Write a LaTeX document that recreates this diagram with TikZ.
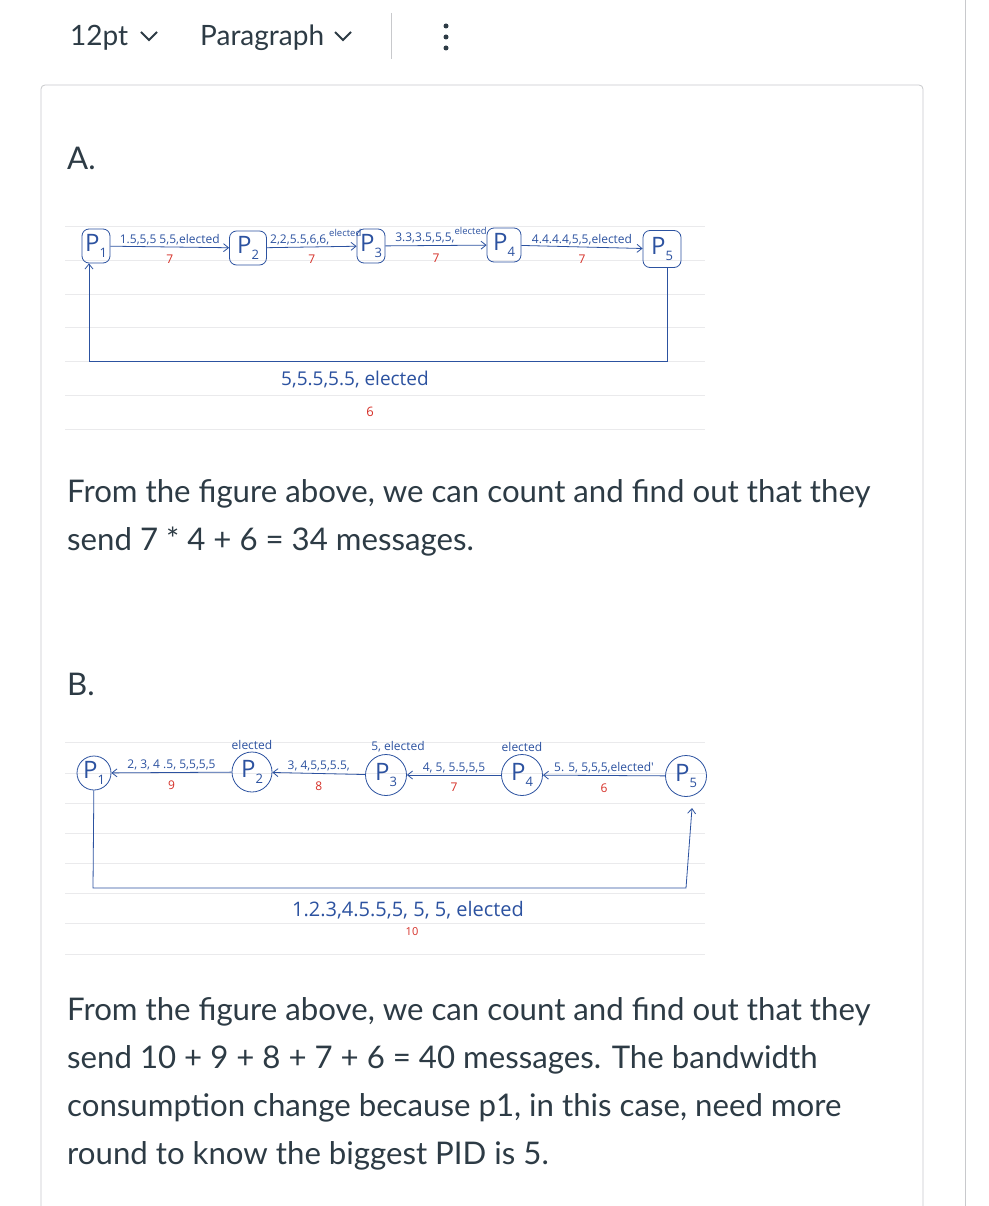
\documentclass[tikz,border=0pt]{standalone}
\usepackage{fontspec}
\setmainfont{Lato}
\newfontfamily\hand{Open Sans}
\usetikzlibrary{arrows.meta}
\definecolor{ink}{RGB}{45,59,69}
\definecolor{pen}{RGB}{44,82,160}
\definecolor{redpen}{RGB}{214,48,40}
\definecolor{rule}{RGB}{234,234,236}
\definecolor{frame}{RGB}{200,201,204}
\tikzset{
  proc/.style={draw=pen,thick,rounded corners=7pt,inner sep=0pt,minimum width=30pt,minimum height=34pt,text=pen,font=\hand\fontsize{24}{24}\selectfont},
  procb/.style={draw=pen,thick,circle,inner sep=0pt,minimum size=38pt,text=pen,font=\hand\fontsize{24}{24}\selectfont},
  flow/.style={draw=pen,thick,-{Straight Barb[length=5pt,width=8pt]}},
  lbl/.style={text=pen,font=\hand\fontsize{12}{12}\selectfont,inner sep=2pt},
  cnt/.style={text=redpen,font=\hand\fontsize{12}{12}\selectfont,inner sep=8pt},
  body/.style={text=ink,font=\fontsize{31.2}{31.2}\selectfont,anchor=base west,inner sep=0pt}
}
\newcommand{\pid}[1]{P\raisebox{-6pt}{\fontsize{13}{13}\selectfont #1}}
\newcommand{\up}[1]{\raisebox{7pt}{\fontsize{9.5}{9.5}\selectfont #1}}
\begin{document}
\begin{tikzpicture}[x=1pt,y=-1pt]
  \clip (0,0) rectangle (988,1206);
  \fill[white] (0,0) rectangle (988,1206);

  % toolbar and editor frame
  \node[body,font=\fontsize{28}{28}\selectfont] (size) at (70,46) {12pt};
  \node[body,font=\fontsize{28}{28}\selectfont] (style) at (200,46) {Paragraph};
  \draw[ink,line width=2pt] (141,32) -- (149,40) -- (157,32);
  \draw[ink,line width=2pt] (335,32) -- (343,40) -- (351,32);
  \draw[frame] (391,13) -- (391,59);
  \foreach \y in {26,37,48} \fill[ink] (446,\y) circle (2.5pt);
  \draw[frame,thick] (965,-2) -- (965,1210);
  \draw[frame,thick,rounded corners=4pt] (41,1230) -- (41,85) -- (923,85) -- (923,1230);

  % ruled paper lines
  \foreach \y in {226,260,294,327,361,395,429} \draw[rule,thick] (65,\y) -- (705,\y);
  \foreach \y in {742,773,803,833,863,893,923,954} \draw[rule,thick] (65,\y) -- (705,\y);

  \node[body] (hA) at (67,170) {A.};

  % Specification of nodes (part A)
  \node[proc,minimum width=28pt] (p1a) at (96,246) {\pid{1}};
  \node[proc,minimum width=37pt] (p2a) at (248,248) {\pid{2}};
  \node[proc,minimum width=28pt] (p3a) at (371,246) {\pid{3}};
  \node[proc,minimum width=34pt] (p4a) at (504,245) {\pid{4}};
  \node[proc,minimum width=38pt,minimum height=37pt] (p5a) at (662,249) {\pid{5}};
  \coordinate (a1) at (667,361);
  \coordinate (a2) at (89,361);

  \begin{scope}[flow]
    \draw (p1a) -- node[lbl,above] {1.5,5,5 5,5,elected} node[cnt,below] {7} (p2a);
    \draw (p2a) -- node[lbl,above,xshift=4pt] {2,2,5.5,6,6,\up{elected}} node[cnt,below] {7} (p3a);
    \draw (p3a) -- node[lbl,above,xshift=5pt] {3.3,3.5,5,5,\up{elected}} node[cnt,below] {7} (p4a);
    \draw (p4a) -- node[lbl,above] {4.4.4.4,5,5,elected} node[cnt,below] {7} (p5a);
    \draw (p5a.south -| a1) -- (a1) -- (a2) -- (a2 |- p1a.south);
  \end{scope}
  \node[lbl,font=\hand\fontsize{19}{19}\selectfont] (ra) at (355,380) {5,5.5,5.5, elected};
  \node[cnt,font=\hand\fontsize{13}{13}\selectfont] (ca) at (370,412) {6};

  \node[body] (t1) at (67,502) {From the figure above, we can count and find out that they};
  \node[body] (t2) at (67,550) {send 7 * 4 + 6 = 34 messages.};

  \node[body] (hB) at (67,695) {B.};

  % Specification of nodes (part B)
  \node[procb,minimum size=34pt] (p1b) at (94,773) {\pid{1}};
  \node[procb,minimum size=40pt] (p2b) at (252,772) {\pid{2}};
  \node[procb,minimum size=41pt] (p3b) at (386,775) {\pid{3}};
  \node[procb,minimum size=41pt] (p4b) at (522,775) {\pid{4}};
  \node[procb,minimum size=41pt] (p5b) at (686,776) {\pid{5}};
  \coordinate (b1) at (93,888);
  \coordinate (b2) at (686,888);
  \coordinate (b3) at (692,808);

  \begin{scope}[flow]
    \draw (p2b) -- node[lbl,above] {2, 3, 4 .5, 5,5,5,5} node[cnt,below] {9} (p1b);
    \draw (p3b) -- node[lbl,above] {3, 4,5,5,5.5,} node[cnt,below] {8} (p2b);
    \draw (p4b) -- node[lbl,above] {4, 5, 5.5,5,5} node[cnt,below] {7} (p3b);
    \draw (p5b) -- node[lbl,above] {5. 5, 5,5,5,elected'} node[cnt,below] {6} (p4b);
    \draw (p1b) -- (b1) -- (b2) -- (b3);
  \end{scope}
  \node[lbl,above=0pt] (e2) at (p2b.north) {elected};
  \node[lbl,above=0pt] (e3) at ([xshift=12pt]p3b.north) {5, elected};
  \node[lbl,above=0pt] (e4) at (p4b.north) {elected};
  \node[lbl,font=\hand\fontsize{20}{20}\selectfont] (rb) at (408,910) {1.2.3,4.5.5,5, 5, 5, elected};
  \node[cnt,font=\hand\fontsize{11}{11}\selectfont] (cb) at (412,932) {10};

  \node[body] (t3) at (67,1020) {From the figure above, we can count and find out that they};
  \node[body] (t4) at (67,1068) {send 10 + 9 + 8 + 7 + 6 = 40 messages. The bandwidth};
  \node[body] (t5) at (67,1116) {consumption change because p1, in this case, need more};
  \node[body] (t6) at (67,1164) {round to know the biggest PID is 5.};
\end{tikzpicture}
\end{document}
